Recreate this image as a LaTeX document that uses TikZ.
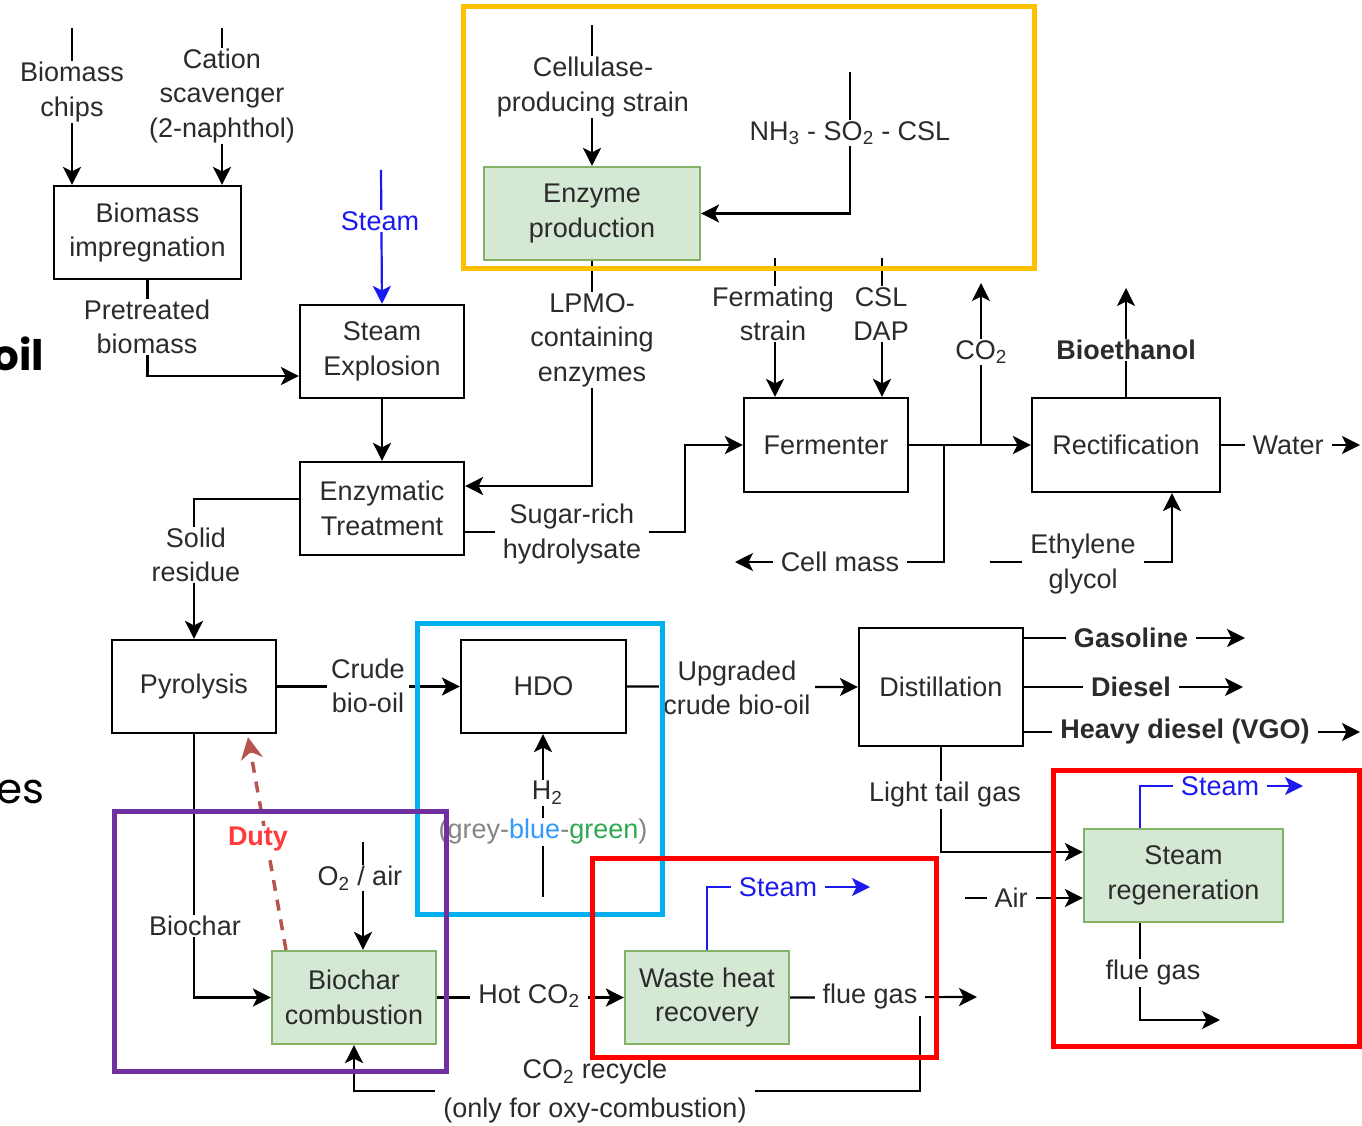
\documentclass[tikz,border=0pt]{standalone}
\usepackage{fontspec}
\setmainfont{Liberation Sans}
\newfontfamily\fragfont{Poppins}
\usetikzlibrary{arrows.meta}
\definecolor{txt}{HTML}{2B2B2B}
\definecolor{gfill}{HTML}{D5E8D4}
\definecolor{gline}{HTML}{82B366}
\definecolor{stblue}{HTML}{1A1AF0}
\definecolor{frorange}{HTML}{FFC000}
\definecolor{frcyan}{HTML}{00B0F0}
\definecolor{frpurple}{HTML}{7030A0}
\definecolor{frred}{HTML}{FF0000}
\definecolor{dutyred}{HTML}{FF3B3B}
\definecolor{dutyline}{HTML}{B85450}
\definecolor{hblue}{HTML}{3399FF}
\definecolor{hgreen}{HTML}{2EA84F}
\definecolor{hgrey}{HTML}{858585}
\newcommand{\lblfont}{\fontsize{27}{34.5}\selectfont}
\begin{document}
\begin{tikzpicture}[x=1pt,y=-1pt,
  every node/.style={font=\lblfont, text=txt},
  proc/.style={draw=black, line width=2.2pt, fill=white, align=center, inner sep=0pt},
  gproc/.style={proc, draw=gline, fill=gfill},
  lab/.style={fill=white, align=center, inner xsep=8pt, inner ysep=1pt},
  flow/.style={draw=black, line width=2.2pt, -{Stealth[length=18pt,width=18pt,inset=4.5pt]}},
  pline/.style={draw=black, line width=2pt},
  bflow/.style={draw=stblue, line width=2.2pt, -{Stealth[length=18pt,width=18pt,inset=4.5pt]}},
  frame/.style={line width=5pt}
]
\useasboundingbox (0,0) rectangle (1362,1126);
\clip (0,0) rectangle (1362,1126);

% fragments at left edge
\node[font=\fragfont\bfseries\fontsize{42}{50}\selectfont, text=black, anchor=base east, inner sep=0pt] (fragA) at (44,370) {oil};
\node[font=\fragfont\fontsize{42}{50}\selectfont, text=black, anchor=base east, inner sep=0pt] (fragB) at (45,803) {es};

% process boxes
\node[proc, minimum width=187pt, minimum height=93pt] (imp) at (147.5,232.5) {Biomass\\impregnation};
\node[proc, minimum width=164pt, minimum height=93pt] (se) at (382,351.5) {Steam\\Explosion};
\node[proc, minimum width=164pt, minimum height=93pt] (et) at (382,508.5) {Enzymatic\\Treatment};
\node[gproc, minimum width=216pt, minimum height=93pt] (ep) at (592,213.5) {Enzyme\\production};
\node[proc, minimum width=164pt, minimum height=94pt] (ferm) at (826,445) {Fermenter};
\node[proc, minimum width=188pt, minimum height=94pt] (rect) at (1126,445) {Rectification};
\node[proc, minimum width=164pt, minimum height=93pt] (pyr) at (194,686.5) {Pyrolysis};
\node[proc, minimum width=165pt, minimum height=93pt] (hdo) at (543.5,686.5) {HDO};
\node[proc, minimum width=164pt, minimum height=118pt] (dist) at (941,687) {Distillation};
\node[gproc, minimum width=164pt, minimum height=93pt] (bc) at (354,997.5) {Biochar\\combustion};
\node[gproc, minimum width=164pt, minimum height=93pt] (whr) at (707,997.5) {Waste heat\\recovery};
\node[gproc, minimum width=199pt, minimum height=93pt] (sr) at (1183.5,875.5) {Steam\\regeneration};

% free ends
\coordinate (bcS) at (72,28);
\coordinate (csS) at (222,28);
\coordinate (stS) at (381,170);
\coordinate (celS) at (592,25);
\coordinate (nhS) at (850,72);
\coordinate (fsS) at (775,258);
\coordinate (cdS) at (882,258);
\coordinate (jco2) at (981,445);
\coordinate (co2E) at (981,283);
\coordinate (jcm) at (944,445);
\coordinate (cmE) at (735,562);
\coordinate (egS) at (990,562);
\coordinate (beE) at (1126,288);
\coordinate (waterE) at (1360,445);
\coordinate (gasE) at (1245,638);
\coordinate (dieE) at (1243,687);
\coordinate (hdE) at (1360,732);
\coordinate (airS) at (965,898);
\coordinate (srStE) at (1303,786);
\coordinate (srFlE) at (1220,1020);
\coordinate (o2S) at (363,842);
\coordinate (whrStE) at (870,887);
\coordinate (whrFlE) at (977,997);
\coordinate (recS) at (920,1016);
\coordinate (h2S) at (543,897);

% connectors
\draw[flow] (bcS) -- (bcS |- imp.north);
\draw[flow] (csS) -- (csS |- imp.north);
\draw[flow] (imp.south) |- ([yshift=-24.5pt]se.west);
\draw[bflow] (stS) -- (se.north);
\draw[flow] (se.south) -- (et.north);
\draw[flow] (celS) -- (ep.north);
\draw[flow] (nhS) |- (ep.east);
\draw[flow] (ep.south) |- ([yshift=22.5pt]et.east);
\draw[flow] ([yshift=9.5pt]et.west) -| (pyr.north);
\draw[flow] ([yshift=-23.5pt]et.east) -- (685,532) |- (ferm.west);
\draw[flow] (fsS) -- (fsS |- ferm.north);
\draw[flow] (cdS) -- (cdS |- ferm.north);
\draw[flow] (ferm.east) -- (rect.west);
\draw[flow] (jco2) -- (co2E);
\draw[flow] (jcm) |- (cmE);
\draw[flow] (egS) -| ([xshift=46pt]rect.south);
\draw[flow] (rect.north) -- (beE);
\draw[flow] (rect.east) -- (waterE);
\draw[flow] (pyr.east) -- (hdo.west);
\draw[flow] (hdo.east) -- (dist.west);
\draw[flow] ([yshift=49pt]dist.east) -- (gasE);
\draw[flow] (dist.east) -- (dieE);
\draw[flow] ([yshift=-45pt]dist.east) -- (hdE);
\draw[flow] (dist.south) |- ([yshift=23.5pt]sr.west);
\draw[flow] (airS) -- ([yshift=-22.5pt]sr.west);
\draw[bflow] ([xshift=-43.5pt]sr.north) |- (srStE);
\draw[flow] ([xshift=-43.5pt]sr.south) |- (srFlE);
\draw[flow] (pyr.south) |- (bc.west);
\draw[draw=dutyline, line width=3.5pt, dash pattern=on 11pt off 9pt, -{Stealth[length=22pt,width=22pt,inset=7pt]}] ([xshift=-68pt]bc.north) -- ([xshift=54pt,yshift=-3pt]pyr.south);
\draw[flow] (o2S) -- (o2S |- bc.north);
\draw[flow] (bc.east) -- (whr.west);
\draw[bflow] (whr.north) |- (whrStE);
\draw[flow] (whr.east) -- (whrFlE);
\draw[flow] (recS) -- (920,1091) -| (bc.south);
\draw[flow] (h2S) -- (h2S |- hdo.south);

% labels
\node[lab] (lbBC) at (72,92) {Biomass\\chips};
\node[lab] (lbCS) at (222,96) {Cation\\scavenger\\(2-naphthol)};
\node[lab] (lbPB) at (147,327) {Pretreated\\biomass};
\node[lab, text=stblue] (lbST) at (380,221) {Steam};
\node[lab] (lbCel) at (593,87) {Cellulase-\\producing strain};
\node[lab] (lbNH) at (850,133) {NH\textsubscript{3} - SO\textsubscript{2} - CSL};
\node[lab] (lbLP) at (592,340) {LPMO-\\containing\\enzymes};
\node[lab] (lbFS) at (773,314) {Fermating\\strain};
\node[lab] (lbCD) at (881,314) {CSL\\DAP};
\node[lab, inner xsep=2pt] (lbCO2) at (981,352) {CO\textsubscript{2}};
\node[lab, font=\lblfont\bfseries] (lbBE) at (1126,350) {Bioethanol};
\node[lab] (lbW) at (1288,445) {Water};
\node[lab] (lbSR) at (196,555) {Solid\\residue};
\node[lab] (lbSH) at (572,534) {Sugar-rich\\hydrolysate};
\node[lab] (lbCM) at (840,562) {Cell mass};
\node[lab] (lbEG) at (1083,564) {Ethylene\\glycol};
\node[lab, inner xsep=4pt] (lbCB) at (368,686) {Crude\\bio-oil};
\node[lab, inner xsep=4pt] (lbUC) at (737,688) {Upgraded\\crude bio-oil};
\node[lab, font=\lblfont\bfseries] (lbGas) at (1131,638) {Gasoline};
\node[lab, font=\lblfont\bfseries] (lbDie) at (1131,687) {Diesel};
\node[lab, font=\lblfont\bfseries] (lbHD) at (1185,732) {Heavy diesel (VGO)};
\node[lab] (lbLT) at (945,795) {Light tail gas};
\node[lab, inner xsep=2pt] (lbH2) at (547,793) {H\textsubscript{2}};
\node[lab, inner xsep=2pt] (lbHC) at (543,832) {{\color{hgrey}(grey-}{\color{hblue}blue}{\color{hgrey}-}{\color{hgreen}green}{\color{hgrey})}};
\node[lab, font=\lblfont\bfseries, text=dutyred, inner xsep=2pt] (lbDuty) at (258,839) {Duty};
\node[lab, inner xsep=2pt] (lbO2) at (360,878) {O\textsubscript{2} / air};
\node[lab, inner xsep=2pt] (lbBio) at (195,926) {Biochar};
\node[lab] (lbAir) at (1011,898) {Air};
\node[lab, text=stblue] (lbSRS) at (1220,786) {Steam};
\node[lab, inner xsep=2pt] (lbSRF) at (1153,973) {flue gas};
\node[lab, text=stblue] (lbWS) at (778,887) {Steam};
\node[lab] (lbWF) at (870,997) {flue gas};
\node[lab] (lbHot) at (529,996) {Hot CO\textsubscript{2}};
\node[lab, font=\fontsize{27}{39}\selectfont] (lbRec) at (595,1091) {CO\textsubscript{2} recycle\\(only for oxy-combustion)};

% coloured frames
\draw[frame, draw=frorange] (463,7) rectangle (1034,268);
\draw[frame, draw=frcyan] (417,623) rectangle (662,914);
\draw[frame, draw=frpurple] (114,811) rectangle (446,1071);
\draw[frame, draw=frred] (592,858) rectangle (936,1057);
\draw[frame, draw=frred] (1053,770) rectangle (1359,1046);
\end{tikzpicture}
\end{document}
